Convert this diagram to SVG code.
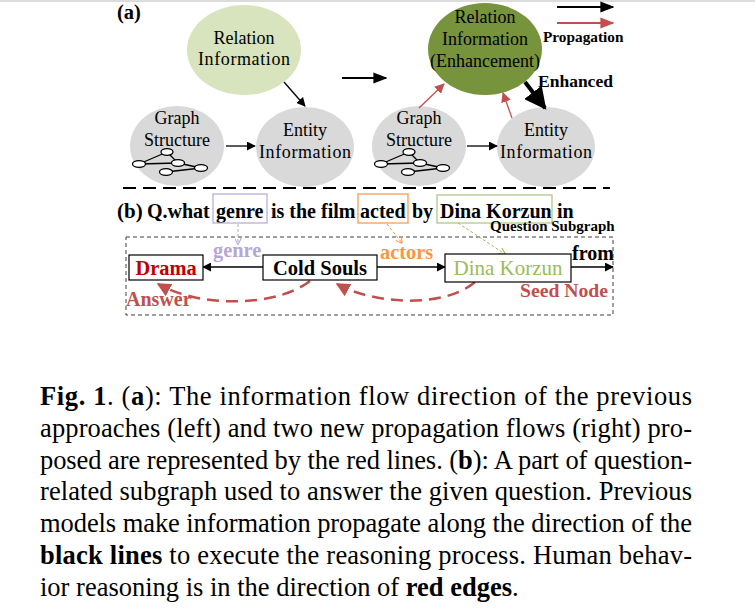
<svg xmlns="http://www.w3.org/2000/svg" width="755" height="615" viewBox="0 0 755 615">
<defs>
<style>
.s{font-family:"Liberation Serif","Times New Roman",serif;}
.t{font-family:"Liberation Serif","Times New Roman",serif;font-size:18px;fill:#000;text-anchor:middle;}
.b{font-weight:bold;}
.cap{font-family:"Liberation Serif","Times New Roman",serif;font-size:26.5px;fill:#000;}
.blk{stroke:#000;stroke-width:1.3;fill:none;}
.red{stroke:#C0504D;stroke-width:1.3;fill:none;}
.box{fill:#fff;stroke:#000;stroke-width:1.2;}
.gn{fill:#fff;stroke:#000;stroke-width:1.3;}
</style>
<marker id="ab" viewBox="0 0 10 10" refX="9" refY="5" markerWidth="9" markerHeight="9" orient="auto" markerUnits="userSpaceOnUse"><path d="M0,0 L10,5 L0,10 z" fill="#000"/></marker>
<marker id="ab2" viewBox="0 0 10 10" refX="9" refY="5" markerWidth="14" markerHeight="14" orient="auto" markerUnits="userSpaceOnUse"><path d="M0,1 L10,5 L0,9 z" fill="#000"/></marker>
<marker id="ar" viewBox="0 0 10 10" refX="9" refY="5" markerWidth="10" markerHeight="10" orient="auto" markerUnits="userSpaceOnUse"><path d="M0,0 L10,5 L0,10 z" fill="#C0504D"/></marker>
<marker id="ar2" viewBox="0 0 10 10" refX="9" refY="5" markerWidth="14" markerHeight="14" orient="auto" markerUnits="userSpaceOnUse"><path d="M0,1 L10,5 L0,9 z" fill="#C0504D"/></marker>
<marker id="ak" viewBox="0 0 10 10" refX="9" refY="5" markerWidth="22" markerHeight="22" orient="auto" markerUnits="userSpaceOnUse"><path d="M0,0 L10,5 L0,10 z" fill="#000"/></marker>
<marker id="arc" viewBox="0 0 10 10" refX="9" refY="5" markerWidth="14" markerHeight="14" orient="auto" markerUnits="userSpaceOnUse"><path d="M0,0 L10,5 L0,10 z" fill="#C0504D"/></marker>
<marker id="ap" viewBox="0 0 10 10" refX="9" refY="5" markerWidth="7" markerHeight="7" orient="auto" markerUnits="userSpaceOnUse"><path d="M0,0 L10,5 L0,10" fill="none" stroke="#B4A7D6" stroke-width="1.5"/></marker>
<marker id="ao" viewBox="0 0 10 10" refX="9" refY="5" markerWidth="7" markerHeight="7" orient="auto" markerUnits="userSpaceOnUse"><path d="M0,0 L10,5 L0,10" fill="none" stroke="#F79646" stroke-width="1.5"/></marker>
<marker id="ag" viewBox="0 0 10 10" refX="9" refY="5" markerWidth="7" markerHeight="7" orient="auto" markerUnits="userSpaceOnUse"><path d="M0,0 L10,5 L0,10" fill="none" stroke="#9BBB59" stroke-width="1.5"/></marker>
<g id="gicon">
<line class="blk" x1="-29" y1="8" x2="-1" y2="-4"/>
<line class="blk" x1="-1" y1="-4" x2="10" y2="7"/>
<line class="blk" x1="-29" y1="8" x2="10" y2="7"/>
<line class="blk" x1="10" y1="7" x2="33" y2="12"/>
<line class="blk" x1="-2" y1="16" x2="33" y2="12"/>
<ellipse class="gn" cx="-1" cy="-4" rx="6" ry="3.3"/>
<ellipse class="gn" cx="-29" cy="8" rx="6.5" ry="3.3"/>
<ellipse class="gn" cx="10" cy="7" rx="6.5" ry="3.3"/>
<ellipse class="gn" cx="33" cy="12" rx="6.5" ry="3.3"/>
<ellipse class="gn" cx="-2" cy="16" rx="6.5" ry="3.3"/>
</g>
</defs>
<rect width="755" height="615" fill="#fff"/>
<line x1="0" y1="1" x2="755" y2="1" stroke="#dcdcdc" stroke-width="2"/>

<text class="s b" x="117" y="19" font-size="20.5">(a)</text>

<!-- left part (a) -->
<g id="relL">
<ellipse cx="244" cy="50" rx="57" ry="45" fill="#D7E4BD"/>
<text class="t" x="244" y="44">Relation</text>
<text class="t" x="244" y="65" textLength="92" lengthAdjust="spacing">Information</text>
</g>
<g id="graphL">
<ellipse cx="177" cy="146" rx="47" ry="40" fill="#D9D9D9"/>
<text class="t" x="177" y="124">Graph</text>
<text class="t" x="177" y="146">Structure</text>
<use href="#gicon" x="168" y="156"/>
</g>
<g id="entL">
<ellipse cx="305" cy="147" rx="49" ry="40" fill="#D9D9D9"/>
<text class="t" x="305" y="136">Entity</text>
<text class="t" x="305" y="158" textLength="92" lengthAdjust="spacing">Information</text>
</g>

<!-- right part (a) -->
<g id="relR">
<ellipse cx="485" cy="49" rx="57" ry="46" fill="#77933C"/>
<text class="t" x="485" y="23">Relation</text>
<text class="t" x="485" y="45">Information</text>
<text class="t" x="485" y="67">(Enhancement)</text>
</g>
<g id="graphR">
<ellipse cx="419" cy="146" rx="47" ry="40" fill="#D9D9D9"/>
<text class="t" x="419" y="124">Graph</text>
<text class="t" x="419" y="146">Structure</text>
<use href="#gicon" x="410" y="156"/>
</g>
<g id="entR">
<ellipse cx="546" cy="147" rx="49" ry="40" fill="#D9D9D9"/>
<text class="t" x="546" y="136">Entity</text>
<text class="t" x="546" y="158" textLength="92" lengthAdjust="spacing">Information</text>
</g>

<g id="legend">
<line x1="557" y1="7" x2="613" y2="7" stroke="#000" stroke-width="2" marker-end="url(#ab2)"/>
<line x1="557" y1="23" x2="613" y2="23" stroke="#C0504D" stroke-width="2" marker-end="url(#ar2)"/>
<text class="s b" x="543" y="42" font-size="15.3">Propagation</text>
<text class="s b" x="538" y="87" font-size="17.5">Enhanced</text>
</g>

<g id="connectors-a">
<line class="blk" x1="226" y1="146" x2="255" y2="146" marker-end="url(#ab)"/>
<line class="blk" x1="284" y1="82" x2="305" y2="106" marker-end="url(#ab)"/>
<line x1="342" y1="78" x2="386" y2="78" stroke="#000" stroke-width="2" marker-end="url(#ab2)"/>
<line class="blk" x1="467" y1="146" x2="497" y2="146" marker-end="url(#ab)"/>
<line class="red" x1="419" y1="108" x2="444" y2="84" marker-end="url(#ar)"/>
<line class="red" x1="512" y1="118" x2="503" y2="93" marker-end="url(#ar)"/>
<line x1="525" y1="82" x2="545" y2="108" stroke="#000" stroke-width="4" marker-end="url(#ak)"/>
</g>

<line x1="123" y1="188" x2="610" y2="188" stroke="#000" stroke-width="2" stroke-dasharray="13,7"/>

<!-- (b) -->
<text class="s b" x="117" y="218" font-size="21">(b)</text>
<text class="s b" x="147" y="218" font-size="20">Q.what <tspan x="216">genre</tspan> <tspan x="271">is the film</tspan> <tspan x="360">acted</tspan> <tspan x="412">by</tspan> <tspan x="440">Dina Korzun</tspan> <tspan x="557">in</tspan></text>
<rect x="213" y="194" width="54" height="29" fill="none" stroke="#B4A7D6" stroke-width="1.2"/>
<rect x="358" y="194" width="50" height="29" fill="none" stroke="#F79646" stroke-width="1.2"/>
<rect x="437" y="195" width="115" height="28" fill="none" stroke="#A9C47F" stroke-width="1.2"/>
<text class="s b" x="490" y="231" font-size="15">Question Subgraph</text>
<rect x="126" y="237" width="487" height="78" fill="none" stroke="#404040" stroke-width="1" stroke-dasharray="4,3"/>

<g id="connectors-b">
<line x1="238" y1="224" x2="238" y2="244" stroke="#B4A7D6" stroke-width="1" stroke-dasharray="3,2" marker-end="url(#ap)"/>
<line x1="387" y1="224" x2="402" y2="243" stroke="#F79646" stroke-width="1" stroke-dasharray="3,2" marker-end="url(#ao)"/>
<line x1="458" y1="223" x2="505" y2="254" stroke="#9BBB59" stroke-width="1" stroke-dasharray="3,2" marker-end="url(#ag)"/>
<line class="blk" x1="263" y1="267" x2="203" y2="267" stroke-width="1.5" marker-end="url(#ab)"/>
<line class="blk" x1="377" y1="267" x2="445" y2="267" stroke-width="1.5" marker-end="url(#ab)"/>
<line class="blk" x1="571" y1="267" x2="613" y2="267" stroke-width="1.5" marker-end="url(#ab)"/>
<path d="M475,282 C445,308 375,305 337,284" fill="none" stroke="#C0504D" stroke-width="2.5" stroke-dasharray="12,7" marker-end="url(#arc)"/>
<path d="M310,281 C280,305 205,310 158,284" fill="none" stroke="#C0504D" stroke-width="2.5" stroke-dasharray="12,7" marker-end="url(#arc)"/>
</g>

<text class="s b" x="213" y="257" font-size="20.4" fill="#B4A7D6">genre</text>
<text class="s b" x="380" y="259" font-size="20.4" fill="#F79646">actors</text>
<text class="s b" x="572" y="260" font-size="20">from</text>

<g id="drama">
<rect class="box" x="129" y="255" width="74" height="25"/>
<text class="s b" x="166" y="275" font-size="20.4" fill="#C00000" text-anchor="middle">Drama</text>
</g>
<g id="coldsouls">
<rect class="box" x="263" y="255" width="114" height="25"/>
<text class="s b" x="320" y="275" font-size="20.5" text-anchor="middle">Cold Souls</text>
</g>
<g id="dina">
<rect class="box" x="445" y="254" width="126" height="28"/>
<text class="s" x="508" y="275" font-size="21" fill="#9BBB59" text-anchor="middle">Dina Korzun</text>
</g>
<text class="s b" x="126" y="306" font-size="20" fill="#C0504D">Answer</text>
<text class="s b" x="520" y="297" font-size="19.7" fill="#C0504D">Seed Node</text>

<!-- caption -->
<text class="cap" x="40" y="405" textLength="652" lengthAdjust="spacing"><tspan font-weight="bold">Fig. 1</tspan>.  <tspan>(</tspan><tspan font-weight="bold">a</tspan>):  The information flow direction of the previous</text>
<text class="cap" x="40" y="437" textLength="652" lengthAdjust="spacing">approaches (left) and two new propagation flows (right) pro-</text>
<text class="cap" x="40" y="469" textLength="652" lengthAdjust="spacing">posed are represented by the red lines. (<tspan font-weight="bold">b</tspan>): A part of question-</text>
<text class="cap" x="40" y="500" textLength="652" lengthAdjust="spacing">related subgraph used to answer the given question. Previous</text>
<text class="cap" x="40" y="532" textLength="652" lengthAdjust="spacing">models make information propagate along the direction of the</text>
<text class="cap" x="40" y="564" textLength="652" lengthAdjust="spacing"><tspan font-weight="bold">black lines</tspan> to execute the reasoning process.  Human behav-</text>
<text class="cap" x="40" y="596">ior reasoning is in the direction of <tspan font-weight="bold">red edges</tspan>.</text>
</svg>
